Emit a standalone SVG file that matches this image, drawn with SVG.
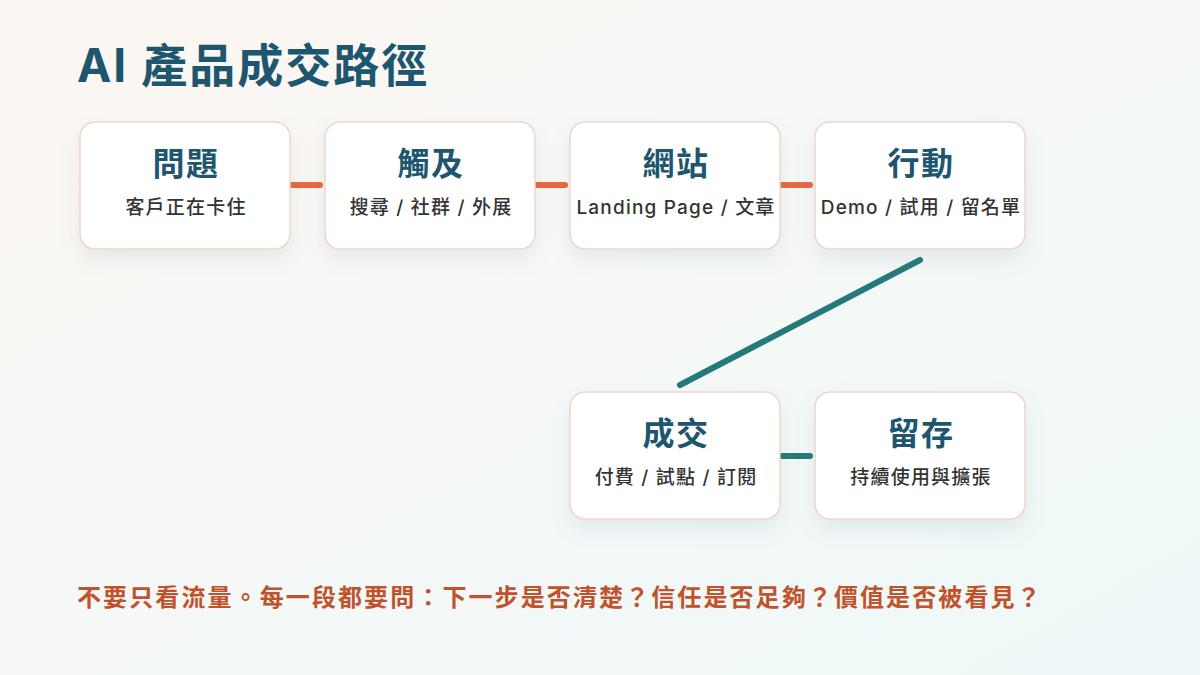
<svg xmlns="http://www.w3.org/2000/svg" width="1200" height="675" viewBox="0 0 1200 675">
<defs>
<linearGradient id="bg" x1="0" y1="0" x2="1" y2="1">
<stop offset="0" stop-color="#fcf6f1"/>
<stop offset="0.45" stop-color="#f6f8f7"/>
<stop offset="1" stop-color="#eef8f8"/>
</linearGradient>
<filter id="sh" x="-20%" y="-20%" width="140%" height="160%">
<feDropShadow dx="0" dy="10" stdDeviation="10" flood-color="#6a7f86" flood-opacity="0.12"/>
</filter>
<style>
.box{fill:#ffffff;stroke:#efd6ca;stroke-width:1.5;filter:url(#sh)}
.t{font-family:"Noto Sans CJK TC","Noto Sans",sans-serif;font-weight:700;font-size:32px;fill:#1d566e;text-anchor:middle;letter-spacing:1.5px}
.s{font-family:Inter,"Noto Sans CJK TC",sans-serif;font-weight:500;font-size:19px;fill:#333333;text-anchor:middle;letter-spacing:1.2px}
.o{stroke:#e8673f;stroke-width:6;stroke-linecap:round;fill:none}
.g{stroke:#247a78;stroke-width:6;stroke-linecap:round;fill:none}
</style>
</defs>
<rect width="1200" height="675" fill="url(#bg)"/>
<text x="77" y="82" font-family="Inter, Noto Sans CJK TC, sans-serif" font-weight="700" font-size="46" letter-spacing="2" fill="#1d566e">AI 產品成交路徑</text>
<g id="connectors">
<line class="o" x1="292" y1="185" x2="320" y2="185"/>
<line class="o" x1="537" y1="185" x2="565" y2="185"/>
<line class="o" x1="782" y1="185" x2="810" y2="185"/>
<line class="g" x1="920" y1="260" x2="680" y2="385"/>
<line class="g" x1="782" y1="456" x2="810" y2="456"/>
</g>
<g id="n1"><rect class="box" x="80" y="122" width="210" height="127" rx="15"/><text class="t" x="186" y="175">問題</text><text class="s" x="186" y="214">客戶正在卡住</text></g>
<g id="n2"><rect class="box" x="325" y="122" width="210" height="127" rx="15"/><text class="t" x="431" y="175">觸及</text><text class="s" x="431" y="214">搜尋 / 社群 / 外展</text></g>
<g id="n3"><rect class="box" x="570" y="122" width="210" height="127" rx="15"/><text class="t" x="676" y="175">網站</text><text class="s" x="676" y="214">Landing Page / 文章</text></g>
<g id="n4"><rect class="box" x="815" y="122" width="210" height="127" rx="15"/><text class="t" x="921" y="175">行動</text><text class="s" x="921" y="214">Demo / 試用 / 留名單</text></g>
<g id="n5"><rect class="box" x="570" y="392" width="210" height="127" rx="15"/><text class="t" x="676" y="445">成交</text><text class="s" x="676" y="484">付費 / 試點 / 訂閱</text></g>
<g id="n6"><rect class="box" x="815" y="392" width="210" height="127" rx="15"/><text class="t" x="921" y="445">留存</text><text class="s" x="921" y="484">持續使用與擴張</text></g>
<text x="77" y="606" font-family="Noto Sans CJK TC, Noto Sans, sans-serif" font-weight="700" font-size="24" letter-spacing="2.1" fill="#c0522c">不要只看流量。每一段都要問：下一步是否清楚？信任是否足夠？價值是否被看見？</text>
</svg>
